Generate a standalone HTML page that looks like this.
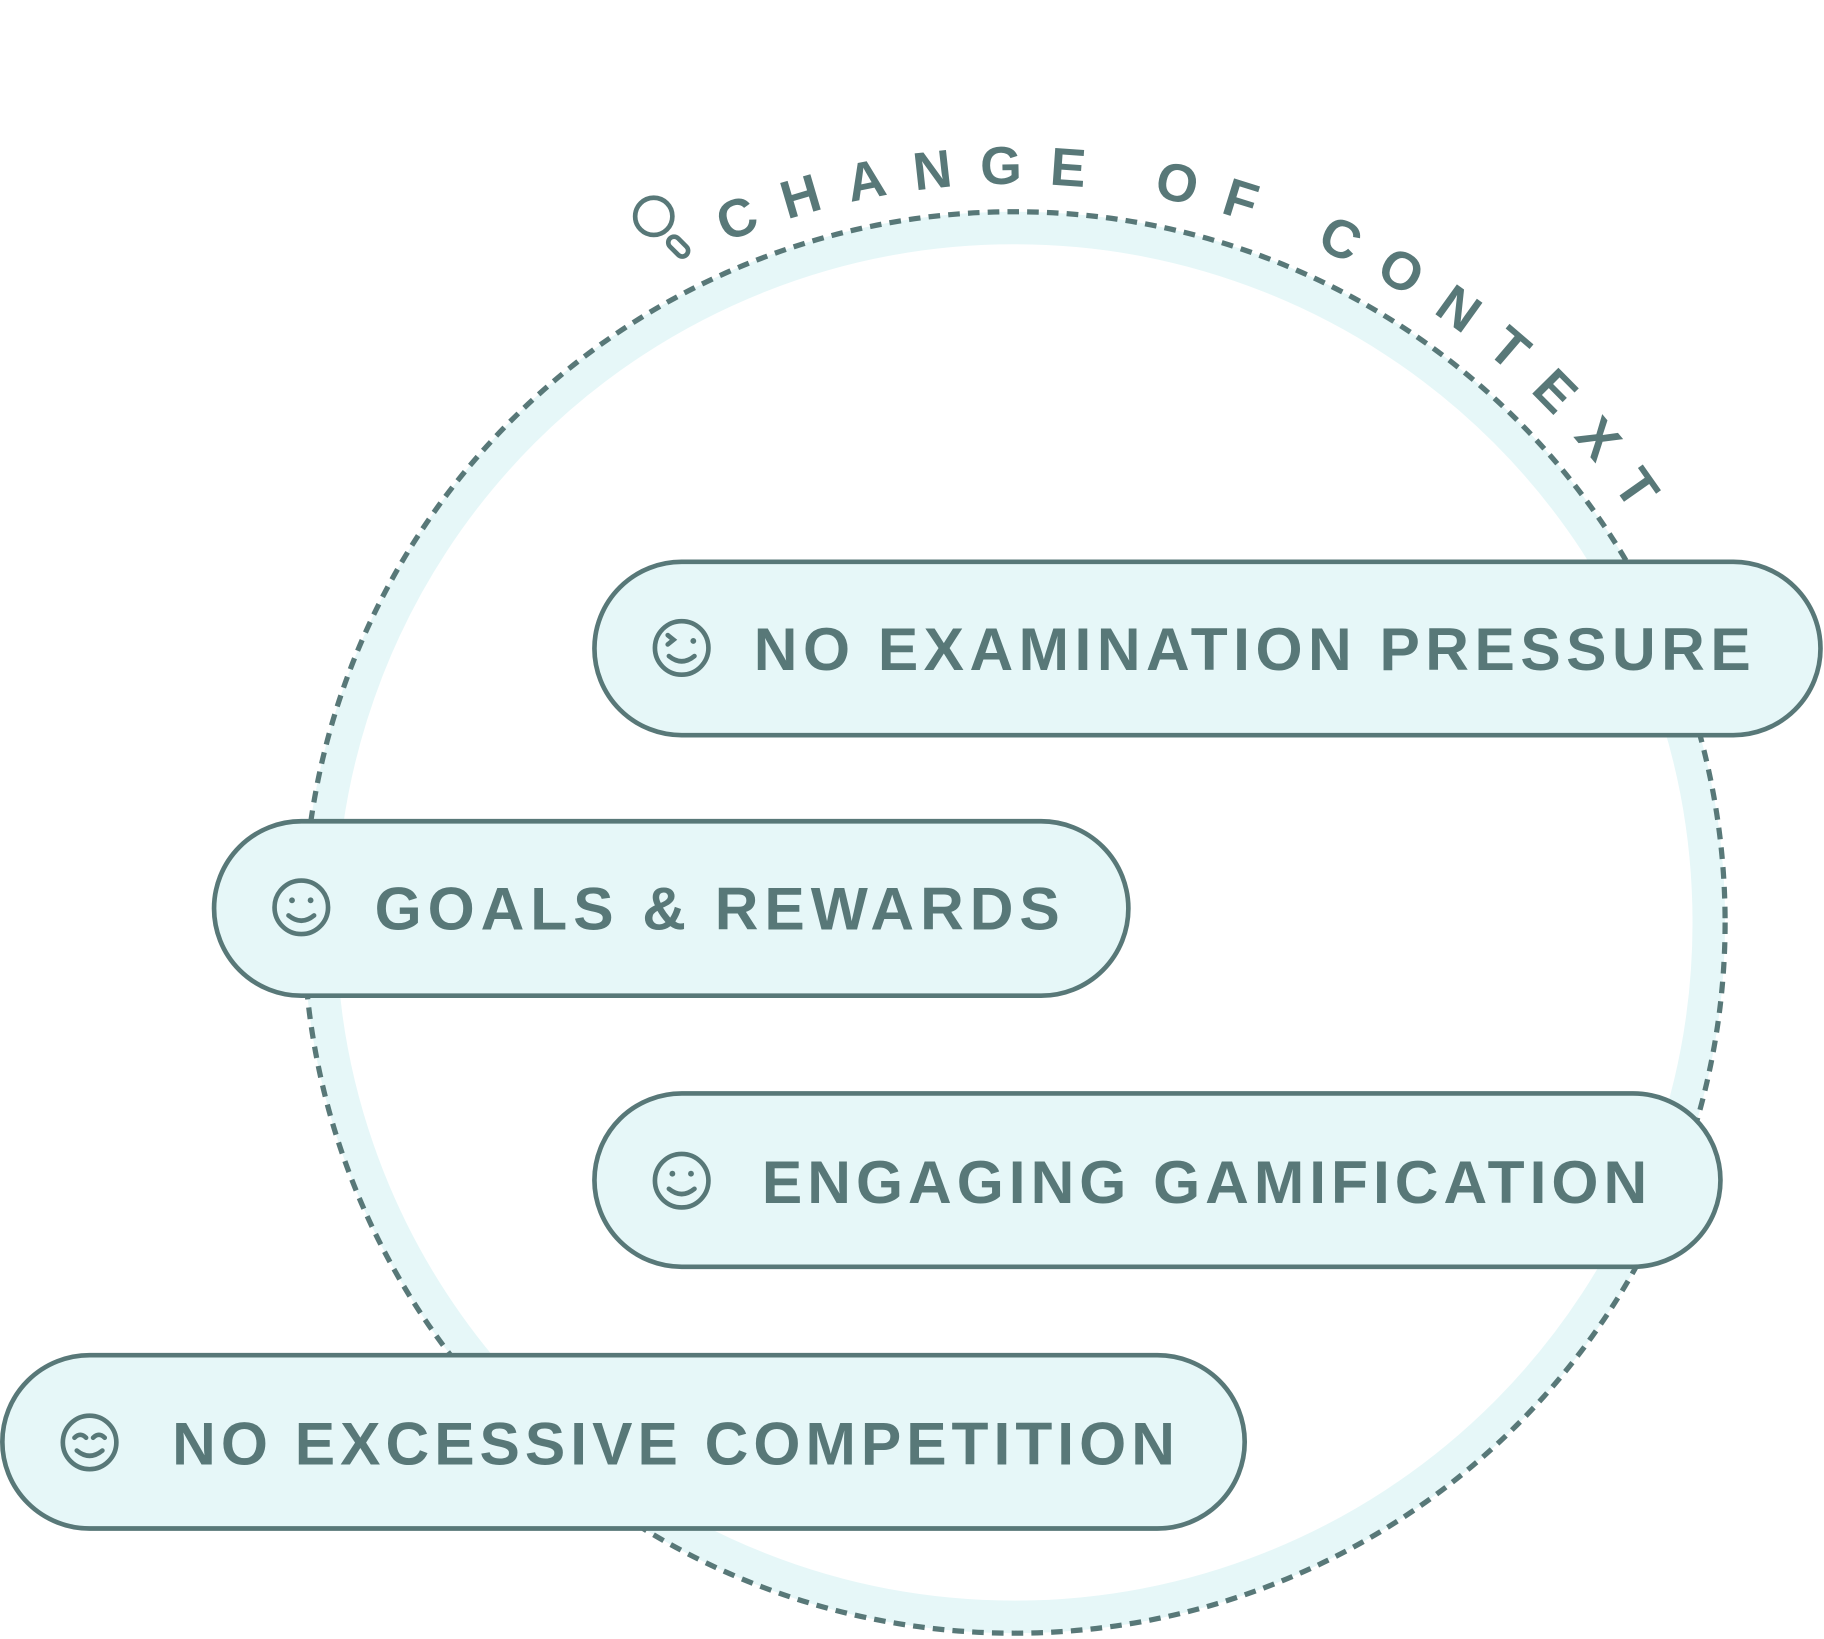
<!DOCTYPE html>
<html><head><meta charset="utf-8"><style>
html,body{margin:0;padding:0;background:#fff;}
svg{display:block;}
.t{font-family:"Liberation Sans",sans-serif;font-weight:bold;fill:#587878;font-size:52px;}
</style></head><body>
<svg width="1824" height="1639" viewBox="0 0 1568 1409" xmlns="http://www.w3.org/2000/svg">
<circle cx="872" cy="793" r="597" fill="none" stroke="#e6f7f8" stroke-width="28"/>
<circle cx="872" cy="793" r="611" fill="none" stroke="#587878" stroke-width="4.5" stroke-dasharray="10 7"/>
<g fill="none" stroke="#587878" stroke-width="4">
<circle cx="562" cy="186" r="16"/>
<rect x="578" y="202" width="10" height="20" rx="5" transform="rotate(-45 583 212)"/>
</g>
<path id="arc" d="M 623.9 208.5 A 638 638 0 0 1 1425 477" fill="none"/>
<text font-family="Liberation Sans, sans-serif" font-size="46" font-weight="bold" fill="#587878"><textPath href="#arc" textLength="880" lengthAdjust="spacing">CHANGE OF CONTEXT</textPath></text>

<g>
<rect x="511" y="483" width="1054" height="149" rx="75" fill="#e6f7f8" stroke="#587878" stroke-width="4"/>
<g fill="none" stroke="#587878" stroke-width="4" stroke-linecap="round"><circle cx="586" cy="557" r="23"/><path d="M575 564 q11 9 22 0"/><path d="M574 546 l5 4 l-5 4"/></g>
<circle cx="596" cy="551" r="2.5" fill="#587878"/>
<text class="t" x="648" y="576" textLength="857" lengthAdjust="spacing">NO EXAMINATION PRESSURE</text>
</g>
<g>
<rect x="184" y="706" width="786" height="150" rx="75" fill="#e6f7f8" stroke="#587878" stroke-width="4"/>
<g fill="none" stroke="#587878" stroke-width="4" stroke-linecap="round"><circle cx="259" cy="780" r="23"/><path d="M248 787 q11 9 22 0"/></g>
<circle cx="251" cy="774" r="2.5" fill="#587878"/><circle cx="267" cy="774" r="2.5" fill="#587878"/>
<text class="t" x="322" y="799" textLength="589" lengthAdjust="spacing">GOALS &amp; REWARDS</text>
</g>
<g>
<rect x="511" y="940" width="968" height="149" rx="75" fill="#e6f7f8" stroke="#587878" stroke-width="4"/>
<g fill="none" stroke="#587878" stroke-width="4" stroke-linecap="round"><circle cx="586" cy="1015" r="23"/><path d="M575 1022 q11 9 22 0"/></g>
<circle cx="578" cy="1009" r="2.5" fill="#587878"/><circle cx="594" cy="1009" r="2.5" fill="#587878"/>
<text class="t" x="655" y="1034" textLength="761" lengthAdjust="spacing">ENGAGING GAMIFICATION</text>
</g>
<g>
<rect x="2" y="1165" width="1068" height="149" rx="75" fill="#e6f7f8" stroke="#587878" stroke-width="4"/>
<g fill="none" stroke="#587878" stroke-width="4" stroke-linecap="round"><circle cx="77" cy="1240" r="23"/><path d="M66 1247 q11 9 22 0"/><path d="M64 1236 q5 -5 10 0"/><path d="M80 1236 q5 -5 10 0"/></g>
<text class="t" x="148" y="1259" textLength="862" lengthAdjust="spacing">NO EXCESSIVE COMPETITION</text>
</g>
</svg>
</body></html>
